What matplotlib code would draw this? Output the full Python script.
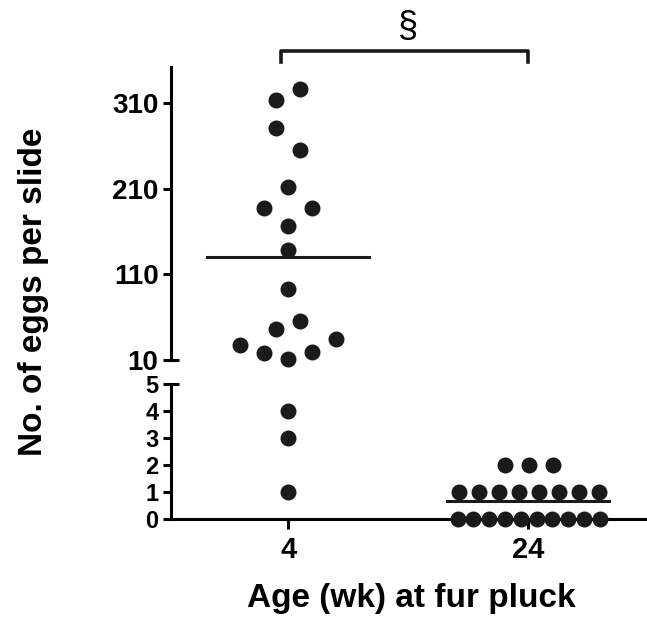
import numpy as np
import matplotlib
matplotlib.use("Agg")
from matplotlib import pyplot as plt

plt.rcParams['font.family'] = ['Liberation Sans', 'DejaVu Sans']
plt.rcParams['font.weight'] = 'bold'

# data
groups = ["4", "24"]
eggs_4 = [326, 314, 281, 255, 212, 187, 187, 166, 138, 93, 55, 46, 27, 18, 11, 19, 34, 4, 3, 1]
eggs_24 = [0] * 10 + [1] * 8 + [2] * 3
means = [130, 0.65]
upper_ticks = [10, 110, 210, 310]
lower_ticks = [0, 1, 2, 3, 4, 5]

# scatter spread (in dot slots) for the 4 wk group, as drawn
slots_4 = [1, -1, -1, 1, 0, -2, 2, 0, 0, 0, 1, -1, -4, -2, 0, 2, 4, 0, 0, 0]

dot_color = '#1a1a1a'
px = 1 / 239.8  # one pixel in x data units
break_lo, break_hi = 5, 10


def row_offsets(values, step):
    # spread equal values in a centred row
    offs = np.zeros(len(values))
    vals = np.array(values)
    for v in np.unique(vals):
        idx = np.where(vals == v)[0]
        n = len(idx)
        offs[idx] = (np.arange(n) - (n - 1) / 2) * step[v]
    return offs


x4 = 1 + np.array(slots_4) * 12 * px
x24 = 2 + row_offsets(eggs_24, {0: 15.8 * px, 1: 20 * px, 2: 24 * px}) + 0.5 * px

fig = plt.figure(figsize=(6.47, 6.17), dpi=100)
ax_top = fig.add_axes([171 / 647, 1 - 360 / 617, 474 / 647, 293 / 617])
ax_low = fig.add_axes([171 / 647, 1 - 519 / 617, 474 / 647, 135 / 617])

for ax, lo, hi in [(ax_top, 10, 352), (ax_low, 0, 5)]:
    ax.set_xlim(0.51, 2.487)
    ax.set_ylim(lo, hi)
    ax.patch.set_alpha(0)
    for s in ['top', 'right']:
        ax.spines[s].set_visible(False)
    ax.spines['left'].set_linewidth(2.2)
    ax.tick_params(axis='y', direction='out', length=6, width=2.2, pad=3)

ax_top.spines['bottom'].set_visible(False)
ax_top.set_xticks([])
ax_top.set_yticks(upper_ticks)
ax_top.tick_params(axis='y', labelsize=20)
ax_low.set_yticks(lower_ticks)
ax_low.tick_params(axis='y', labelsize=17)
ax_low.spines['bottom'].set_linewidth(2.2)
ax_low.set_xticks([1, 2])
ax_low.set_xticklabels(groups)
ax_low.tick_params(axis='x', direction='out', length=7, width=2.2, pad=5, labelsize=21)

# inner half of the break ticks
ax_top.plot([0, 0.016], [break_hi, break_hi], color='black', lw=2.2,
            transform=ax_top.get_yaxis_transform(), clip_on=False, solid_capstyle='butt')
ax_low.plot([0, 0.016], [break_lo, break_lo], color='black', lw=2.2,
            transform=ax_low.get_yaxis_transform(), clip_on=False, solid_capstyle='butt')

# dots: split each group on the broken axis
for xs, ys in [(x4, eggs_4), (x24, eggs_24)]:
    xs = np.array(xs)
    ys = np.array(ys)
    hi = ys >= break_hi
    ax_top.plot(xs[hi], ys[hi], 'o', color=dot_color, ms=11.5, mec='none', clip_on=False, zorder=3)
    ax_low.plot(xs[~hi], ys[~hi], 'o', color=dot_color, ms=11.5, mec='none', clip_on=False, zorder=3)

# mean lines
half = 81 * px
ax_top.plot([1 - half, 1 + half], [means[0], means[0]], color=dot_color, lw=2.2)
ax_low.plot([2 - half, 2 + half], [means[1], means[1]], color=dot_color, lw=2.2)

# significance bracket (y in pixels above the axes, converted to data)
to_y = lambda p: 10 + (360 - p) / 0.8567
bx0, bx1 = 1 - 7.5 * px, 2.0
ax_top.plot([bx0, bx0, bx1, bx1], [to_y(62), to_y(51), to_y(51), to_y(62)],
            color=dot_color, lw=2.6, clip_on=False)
ax_top.text(1 + 120 * px, to_y(28), '§', ha='center', va='center', fontsize=26,
            fontweight='normal', clip_on=False)

fig.text(34 / 647, 1 - 292 / 617, 'No. of eggs per slide', rotation=90, ha='center', va='center',
         fontsize=24, fontweight='bold')
fig.text(411 / 647, 1 - 598 / 617, 'Age (wk) at fur pluck', ha='center', va='center',
         fontsize=24, fontweight='bold')

fig.savefig('out.png', dpi=100)
